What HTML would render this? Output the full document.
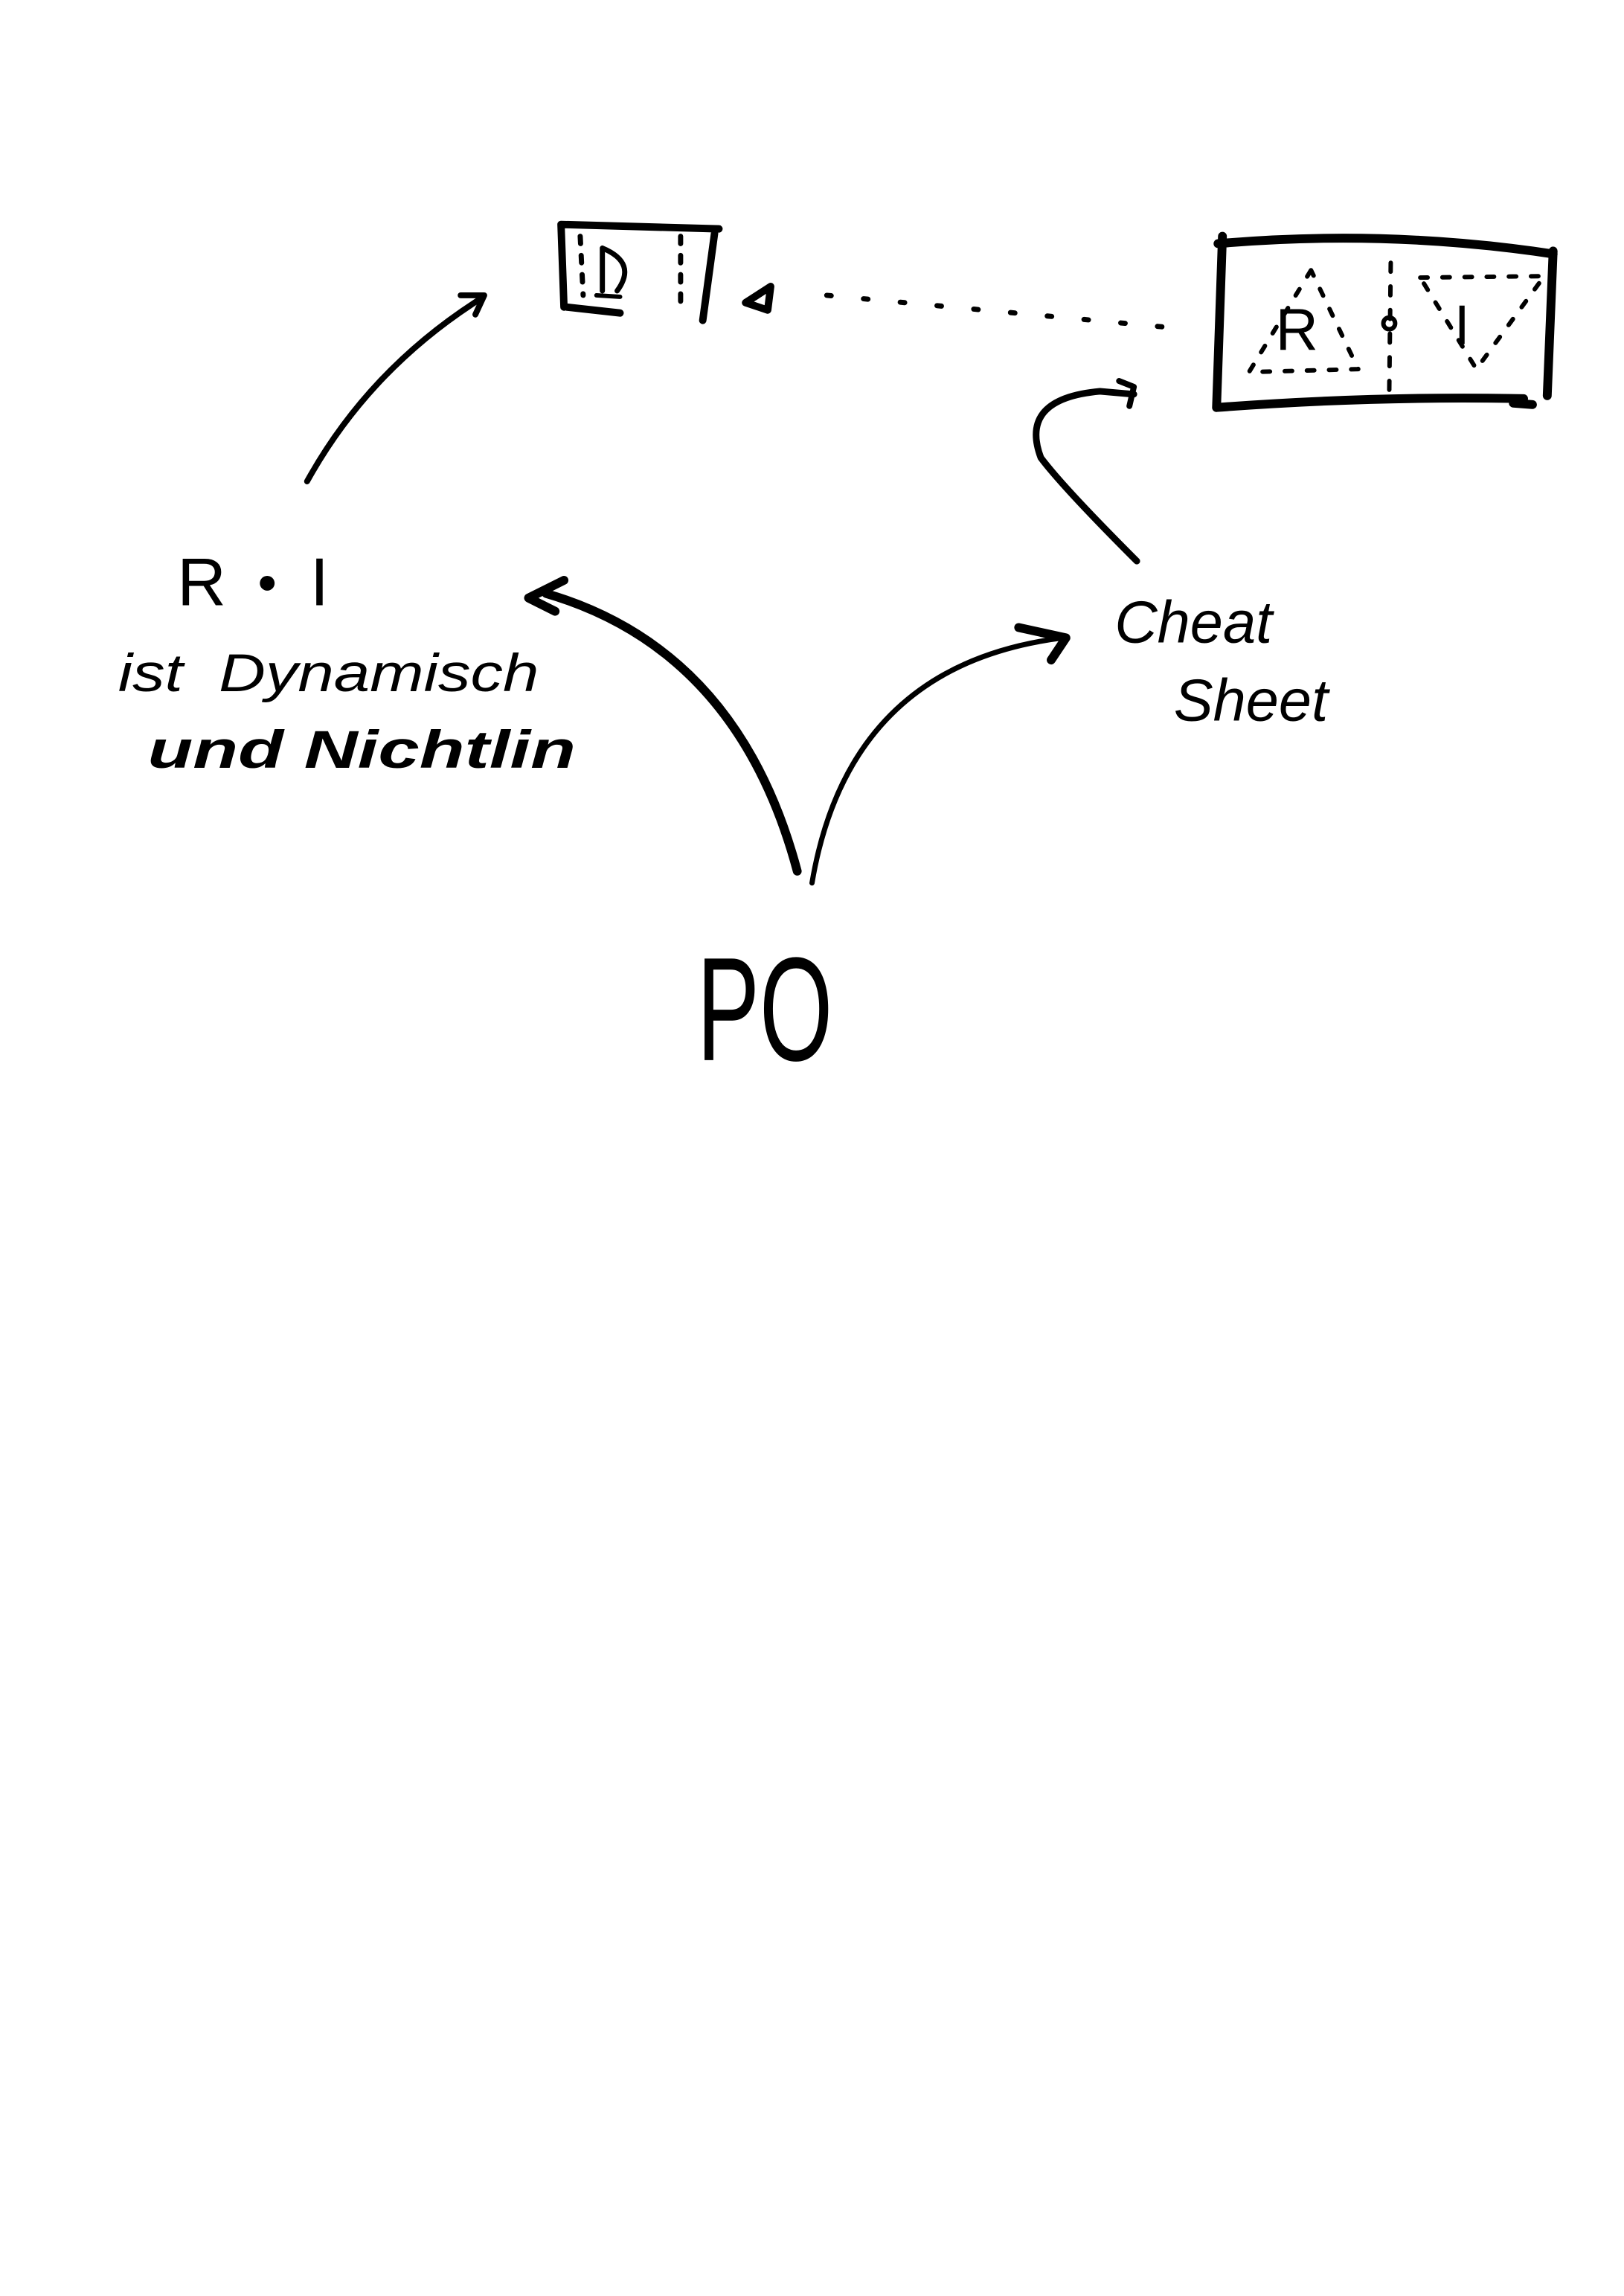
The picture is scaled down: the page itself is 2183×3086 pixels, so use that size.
<!DOCTYPE html>
<html><head><style>
html,body{margin:0;padding:0;background:#fff;}
svg{display:block;}
text{font-family:"Liberation Sans",sans-serif;fill:#000;}
</style></head><body>
<svg width="2183" height="3086" viewBox="0 0 1100 1555" xmlns="http://www.w3.org/2000/svg">
<g fill="none" stroke="#000" stroke-linecap="round" stroke-linejoin="round">
<path d="M380 152 L487 155 M380 152 L382 208 M384 208 L420 212 M484 158 L476 217" stroke-width="5"/>
<path d="M393 160 L395 200 M461 160 L461 210" stroke-width="3.5" stroke-dasharray="5 8"/>
<path d="M408 168 L408 197 M408 168 Q432 178 418 197" stroke-width="3.5"/>
<path d="M404 200 L420 201" stroke-width="3"/>
<path d="M505 205 L522 194 L520 210 Z" stroke-width="5"/>
<path d="M560 200 L805 223" stroke-width="3.5" stroke-dasharray="3 22"/>
<path d="M828 160 L824 276 M825 165 Q940 155 1052 172 M824 276 Q930 268 1032 270 M1052 170 L1048 268 M1025 273 L1038 274" stroke-width="6"/>
<path d="M942 178 L941 265" stroke-width="3" stroke-dasharray="6 10"/>
<path d="M888 183 L846 252 L920 250 Z" stroke-width="3" stroke-dasharray="5 10"/>
<path d="M962 188 L1046 187 L1000 250 Z" stroke-width="3" stroke-dasharray="5 10"/>
<path d="M208 326 Q250 250 326 202" stroke-width="4"/>
<path d="M312 200 L328 200 L322 213" stroke-width="4"/>
<path d="M770 380 Q720 330 705 310 Q690 270 745 265 L768 267" stroke-width="4.5"/>
<path d="M758 258 L768 262 L765 275" stroke-width="4"/>
<path d="M540 590 Q500 440 370 402" stroke-width="6"/>
<path d="M382 393 L358 405 L376 414" stroke-width="6"/>
<path d="M550 598 Q575 450 720 432" stroke-width="3.5"/>
<path d="M690 425 L722 432 L712 447" stroke-width="6"/>
</g>
<circle cx="941" cy="219" r="4" fill="none" stroke="#000" stroke-width="3"/>
<circle cx="181" cy="395" r="5" fill="#000"/>
<text x="864" y="237" font-size="40">R</text>
<text x="985" y="233" font-size="38">I</text>
<text x="120" y="410" font-size="46">R</text>
<text x="210" y="410" font-size="46">I</text>
<text x="80" y="468" font-size="36" font-style="italic" textLength="285" lengthAdjust="spacingAndGlyphs">ist&#160;&#160;Dynamisch</text>
<text x="100" y="520" font-size="36" font-style="italic" font-weight="bold" textLength="290" lengthAdjust="spacingAndGlyphs">und Nichtlin</text>
<text x="755" y="435" font-size="40" font-style="italic">Cheat</text>
<text x="795" y="488" font-size="40" font-style="italic">Sheet</text>
<text x="472" y="718" font-size="100" textLength="92" lengthAdjust="spacingAndGlyphs">PO</text>
</svg>
</body></html>
